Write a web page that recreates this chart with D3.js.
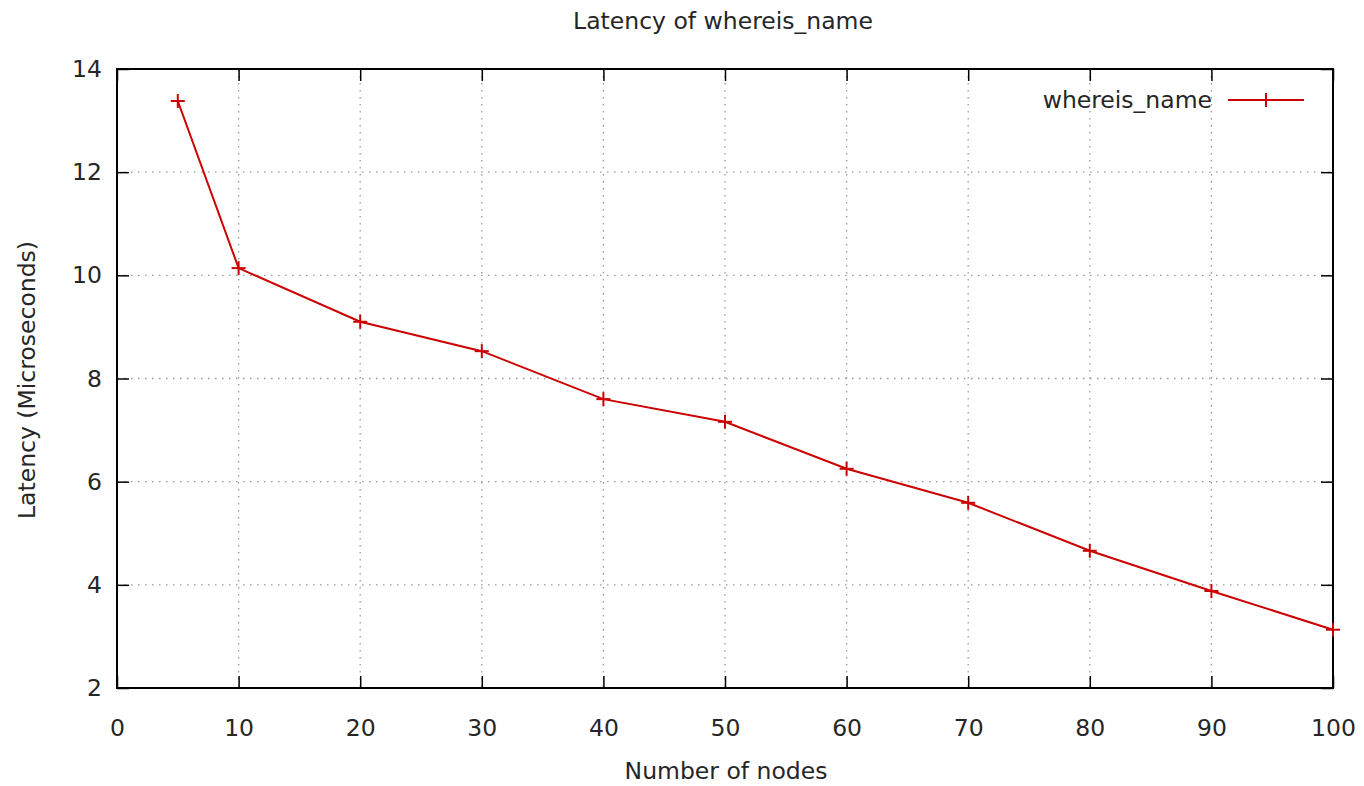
<!DOCTYPE html>
<html><head><meta charset="utf-8">
<script src="https://cdn.jsdelivr.net/npm/d3@7"></script>
<style>body{margin:0;background:#fff}</style>
</head><body>
<svg id="c" width="1364" height="786"></svg>
<script>
const nodes = [5,10,20,30,40,50,60,70,80,90,100];
const latency = [13.38,10.14,9.10,8.53,7.60,7.16,6.25,5.59,4.66,3.88,3.13];
const xTicks = [0,10,20,30,40,50,60,70,80,90,100];
const yTicks = [2,4,6,8,10,12,14];
const seriesName = "whereis_name";

const svg = d3.select("#c");
const L=117,R=1333,T=69,B=688;
const font = "'DejaVu Sans', Verdana, sans-serif";
const fs = 23.5;
const txt = "#262626";
const x = d3.scaleLinear().domain([0,100]).range([L,R]);
const y = d3.scaleLinear().domain([2,14]).range([B,T]);

// grid
const g = svg.append("g");
g.selectAll("line.vx").data(xTicks.filter(d=>d>0&&d<100)).join("line")
 .attr("x1",d=>x(d)).attr("x2",d=>x(d)).attr("y1",T).attr("y2",B)
 .attr("stroke","#999").attr("stroke-width",1.3).attr("stroke-dasharray","1.5,5.5");
g.selectAll("line.hy").data(yTicks.filter(d=>d>2&&d<14)).join("line")
 .attr("y1",d=>y(d)).attr("y2",d=>y(d)).attr("x1",L).attr("x2",R)
 .attr("stroke","#999").attr("stroke-width",1.3).attr("stroke-dasharray","1.5,5.5");

// axes with inward ticks on all sides
const tl=12;
const axB = svg.append("g").attr("transform",`translate(0,${B})`).call(d3.axisBottom(x).tickValues(xTicks).tickSize(-tl).tickPadding(31));
const axT = svg.append("g").attr("transform",`translate(0,${T})`).call(d3.axisTop(x).tickValues(xTicks).tickSize(-tl).tickFormat(""));
const axL = svg.append("g").attr("transform",`translate(${L},0)`).call(d3.axisLeft(y).tickValues(yTicks).tickSize(-tl).tickPadding(15));
const axR = svg.append("g").attr("transform",`translate(${R},0)`).call(d3.axisRight(y).tickValues(yTicks).tickSize(-tl).tickFormat(""));
[axB,axT,axL,axR].forEach(a=>{
  a.select(".domain").remove();
  a.selectAll(".tick line").attr("stroke","#000").attr("stroke-width",1.5);
  a.selectAll("text").attr("font-family",font).attr("font-size",fs).attr("fill",txt);
});
svg.append("rect").attr("x",L).attr("y",T).attr("width",R-L).attr("height",B-T)
 .attr("fill","none").attr("stroke","#000").attr("stroke-width",2);

const red="#cc0000";
const line = d3.line().x((d,i)=>x(nodes[i])).y(d=>y(d));
svg.append("path").datum(latency).attr("d",line).attr("fill","none").attr("stroke",red).attr("stroke-width",2);
const ms=7;
const pts = svg.append("g").selectAll("g").data(latency).join("g")
 .attr("transform",(d,i)=>`translate(${x(nodes[i])},${y(d)})`);
pts.append("line").attr("x1",-ms).attr("x2",ms).attr("stroke",red).attr("stroke-width",2);
pts.append("line").attr("y1",-ms).attr("y2",ms).attr("stroke",red).attr("stroke-width",2);

// legend
const lg = svg.append("g").attr("transform","translate(0,100)");
lg.append("text").attr("x",1212).attr("y",0).attr("dy","0.35em").attr("text-anchor","end")
 .attr("font-family",font).attr("font-size",fs).attr("fill",txt).text(seriesName);
lg.append("line").attr("x1",1228).attr("x2",1304).attr("stroke",red).attr("stroke-width",2);
lg.append("line").attr("x1",1266-ms).attr("x2",1266+ms).attr("stroke",red).attr("stroke-width",2);
lg.append("line").attr("x1",1266).attr("x2",1266).attr("y1",-ms).attr("y2",ms).attr("stroke",red).attr("stroke-width",2);

// titles
svg.append("text").attr("x",723).attr("y",29).attr("text-anchor","middle")
 .attr("font-family",font).attr("font-size",fs).attr("fill",txt).text("Latency of whereis_name");
svg.append("text").attr("x",726).attr("y",779).attr("text-anchor","middle")
 .attr("font-family",font).attr("font-size",fs).attr("fill",txt).text("Number of nodes");
svg.append("text").attr("transform","translate(35,380) rotate(-90)").attr("text-anchor","middle")
 .attr("font-family",font).attr("font-size",fs).attr("fill",txt).text("Latency (Microseconds)");
</script>
</body></html>
